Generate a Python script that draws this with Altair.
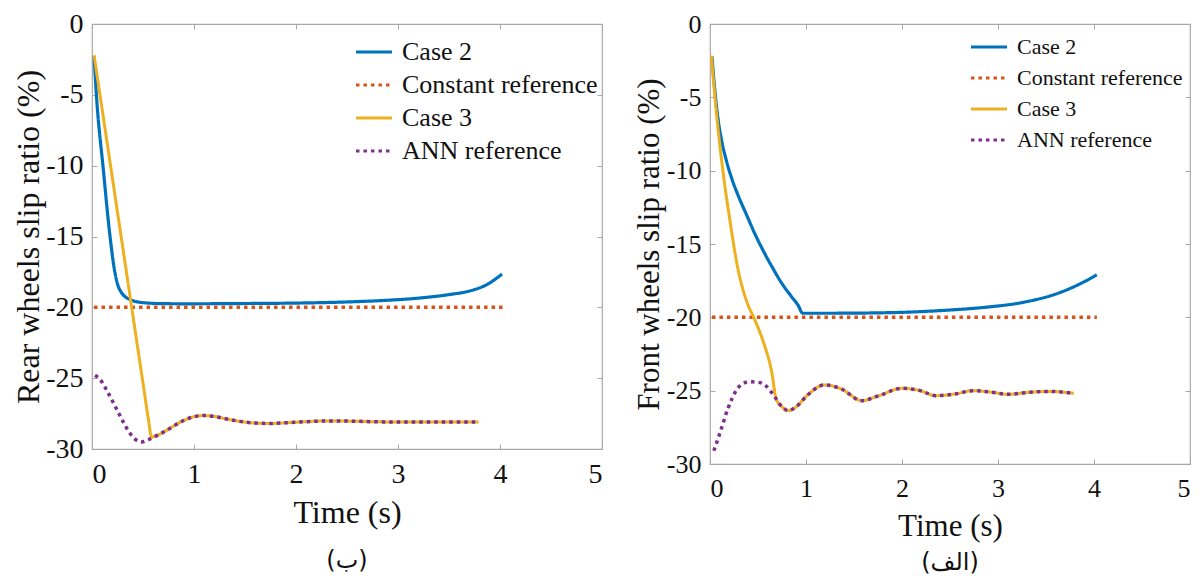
import altair as alt
import pandas as pd

SERIES = ["Case 2", "Constant reference", "Case 3", "ANN reference"]
COLORS = ["#0072BD", "#D95319", "#EDB120", "#7E2F8E"]
DASHES = [[1, 0], [3.5, 4], [1, 0], [3.5, 4]]
X_TICKS = [0, 1, 2, 3, 4, 5]
Y_TICKS = [-30, -25, -20, -15, -10, -5, 0]

# ---------- Rear wheels (ب) ----------
rear_case2_t = [0.02, 0.046, 0.11, 0.176, 0.225, 0.27, 0.37, 0.5, 0.7, 0.925, 1.5, 2.0, 2.5, 2.9, 3.2, 3.5, 3.7, 3.87, 4.02]
rear_case2_y = [-2.3, -5.3, -10.2, -14.95, -17.55, -18.73, -19.44, -19.67, -19.74, -19.75, -19.73, -19.7, -19.62, -19.5, -19.35, -19.1, -18.85, -18.4, -17.65]

rear_const_t = [0.02, 4.03]
rear_const_y = [-20.0, -20.0]

rear_case3_t = [0.02, 0.3, 0.5, 0.55, 0.585, 0.65, 0.75, 0.88, 1.0, 1.09, 1.2, 1.3, 1.45, 1.6, 1.75, 1.9, 2.1, 2.3, 2.5, 2.8, 3.1, 3.4, 3.79]
rear_case3_y = [-2.2, -15.7, -25.35, -27.75, -29.15, -29.0, -28.6, -28.05, -27.72, -27.64, -27.7, -27.85, -28.05, -28.17, -28.2, -28.15, -28.07, -28.02, -28.03, -28.08, -28.1, -28.1, -28.1]

rear_ann_t = [0.03, 0.08, 0.14, 0.2, 0.26, 0.37, 0.43, 0.49, 0.55, 0.65, 0.75, 0.88, 1.0, 1.09, 1.2, 1.3, 1.45, 1.6, 1.75, 1.9, 2.1, 2.3, 2.5, 2.8, 3.1, 3.4, 3.79]
rear_ann_y = [-24.8, -25.1, -25.8, -26.6, -27.45, -28.87, -29.35, -29.5, -29.35, -29.0, -28.6, -28.05, -27.72, -27.64, -27.7, -27.85, -28.05, -28.17, -28.2, -28.15, -28.07, -28.02, -28.03, -28.08, -28.1, -28.1, -28.1]

# ---------- Front wheels (الف) ----------
front_case2_t = [0.02, 0.05, 0.08, 0.12, 0.17, 0.23, 0.3, 0.38, 0.46, 0.55, 0.65, 0.75, 0.85, 0.92, 0.965, 1.29, 1.7, 2.0, 2.5, 2.86, 3.26, 3.65, 3.89, 4.03]
front_case2_y = [-2.2, -4.5, -6.3, -7.9, -9.3, -10.6, -11.8, -13.0, -14.2, -15.4, -16.6, -17.7, -18.6, -19.2, -19.72, -19.72, -19.7, -19.66, -19.5, -19.32, -18.98, -18.3, -17.6, -17.1]

front_const_t = [0.02, 4.03]
front_const_y = [-20.0, -20.0]

front_case3_t = [0.014, 0.05, 0.099, 0.15, 0.21, 0.285, 0.387, 0.455, 0.557, 0.642, 0.69, 0.756, 0.815, 0.89, 1.01, 1.19, 1.37, 1.58, 1.76, 2.0, 2.19, 2.35, 2.55, 2.74, 2.94, 3.1, 3.33, 3.53, 3.79]
front_case3_y = [-2.15, -4.9, -8.07, -10.8, -13.5, -16.5, -19.0, -20.0, -21.7, -23.7, -25.56, -26.14, -26.36, -26.14, -25.34, -24.61, -24.89, -25.68, -25.34, -24.84, -25.0, -25.34, -25.23, -25.0, -25.11, -25.25, -25.11, -25.05, -25.18]

front_ann_t = [0.04, 0.106, 0.185, 0.283, 0.38, 0.44, 0.52, 0.58, 0.677, 0.756, 0.815, 0.89, 1.01, 1.19, 1.37, 1.58, 1.76, 2.0, 2.19, 2.35, 2.55, 2.74, 2.94, 3.1, 3.33, 3.53, 3.79]
front_ann_y = [-29.1, -27.84, -26.25, -24.89, -24.43, -24.4, -24.45, -24.66, -25.45, -26.14, -26.36, -26.14, -25.34, -24.61, -24.89, -25.68, -25.34, -24.84, -25.0, -25.34, -25.23, -25.0, -25.11, -25.25, -25.11, -25.05, -25.18]

SERIF = "Liberation Serif"
BOX = "#a8a8a8"


def frame(name, ts, ys):
    return pd.DataFrame({"series": name, "t": ts, "y": ys, "k": range(len(ts))})


def panel(data, w, h, ytitle, caption, tick_fs, xt_fs, yt_fs, leg_fs, leg_x, leg_y,
          row_pad, xt_pad, yt_pad, cap_offset):
    legend = alt.Legend(
        title=None, orient="none", legendX=leg_x, legendY=leg_y,
        symbolType="stroke", symbolSize=1300, symbolStrokeWidth=3.2,
        labelFont=SERIF, labelFontSize=leg_fs, labelColor="#111",
        labelOffset=8, rowPadding=row_pad, padding=0, labelLimit=400,
    )
    color = alt.Color("series:N", scale=alt.Scale(domain=SERIES, range=COLORS), legend=legend)
    dash = alt.StrokeDash("series:N", scale=alt.Scale(domain=SERIES, range=DASHES), legend=legend)
    xs = alt.Scale(domain=[0, 5], nice=False, zero=False)
    ys = alt.Scale(domain=[-30, 0], nice=False, zero=False)

    x_main = alt.X("t:Q", scale=xs, axis=alt.Axis(
        values=X_TICKS, title="Time (s)", orient="bottom", offset=-5, tickSize=5,
        tickColor=BOX, domain=False, grid=False, labelFont=SERIF, labelFontSize=tick_fs,
        labelColor="#111", labelPadding=11, titleFont=SERIF, titleFontSize=xt_fs,
        titleFontWeight="normal", titleColor="#111", titlePadding=xt_pad))
    y_main = alt.Y("y:Q", scale=ys, axis=alt.Axis(
        values=Y_TICKS, title=ytitle, orient="left", offset=-5, tickSize=5,
        tickColor=BOX, domain=False, grid=False, labelFont=SERIF, labelFontSize=tick_fs,
        labelColor="#111", labelPadding=9, labelExpr="'' + datum.value",
        titleFont=SERIF, titleFontSize=yt_fs, titleFontWeight="normal",
        titleColor="#111", titlePadding=yt_pad))
    x_top = alt.X("t:Q", scale=xs, axis=alt.Axis(
        values=X_TICKS, title=None, orient="top", offset=-5, tickSize=5,
        tickColor=BOX, domain=False, grid=False, labels=False))
    y_right = alt.Y("y:Q", scale=ys, axis=alt.Axis(
        values=Y_TICKS, title=None, orient="right", offset=-5, tickSize=5,
        tickColor=BOX, domain=False, grid=False, labels=False))

    base = alt.Chart(data)
    l1 = base.transform_filter(alt.datum.series == SERIES[0]).mark_line(
        strokeWidth=3.2, interpolate="monotone").encode(
        x=x_main, y=y_main, color=color, strokeDash=dash, order="k:Q")
    l2 = base.transform_filter(alt.datum.series == SERIES[1]).mark_line(
        strokeWidth=3.5, strokeCap="butt").encode(
        x=x_top, y=y_right, color=color, strokeDash=dash, order="k:Q")
    l3 = base.transform_filter(alt.datum.series == SERIES[2]).mark_line(
        strokeWidth=3, interpolate="monotone").encode(
        x=alt.X("t:Q", scale=xs, axis=None), y=alt.Y("y:Q", scale=ys, axis=None),
        color=color, strokeDash=dash, order="k:Q")
    l4 = base.transform_filter(alt.datum.series == SERIES[3]).mark_line(
        strokeWidth=3.5, strokeCap="butt", interpolate="monotone").encode(
        x=alt.X("t:Q", scale=xs, axis=None), y=alt.Y("y:Q", scale=ys, axis=None),
        color=color, strokeDash=dash, order="k:Q")

    return alt.layer(l1, l2, l3, l4).resolve_axis(
        x="independent", y="independent").properties(
        width=w, height=h,
        title=alt.TitleParams(text=caption, orient="bottom", font="DejaVu Sans",
                              fontSize=24, fontWeight="normal", color="#111",
                              offset=cap_offset))


rear = pd.concat([
    frame(SERIES[0], rear_case2_t, rear_case2_y),
    frame(SERIES[1], rear_const_t, rear_const_y),
    frame(SERIES[2], rear_case3_t, rear_case3_y),
    frame(SERIES[3], rear_ann_t, rear_ann_y),
])
front = pd.concat([
    frame(SERIES[0], front_case2_t, front_case2_y),
    frame(SERIES[1], front_const_t, front_const_y),
    frame(SERIES[2], front_case3_t, front_case3_y),
    frame(SERIES[3], front_ann_t, front_ann_y),
])

left = panel(rear, 510, 425, "Rear wheels slip ratio (%)", "(ب)",
             28, 32, 32, 26, 262, 8, -7, 9, 0, 21)
right = panel(front, 480, 440, "Front wheels slip ratio (%)", "(الف)",
              26, 31, 31, 22, 259, 3, -4, 10, 1, 10)

chart = alt.hconcat(left, right, spacing=28).resolve_scale(
    color="independent", strokeDash="independent").properties(
    padding={"left": 4, "top": 1, "right": 0, "bottom": 0}).configure(
    font=SERIF).configure_axis(labelFont=SERIF, titleFont=SERIF).configure_legend(
    labelFont=SERIF).configure_view(stroke=BOX, strokeWidth=1.2)

chart.save("out.html", embed_options={"renderer": "svg", "actions": False})
